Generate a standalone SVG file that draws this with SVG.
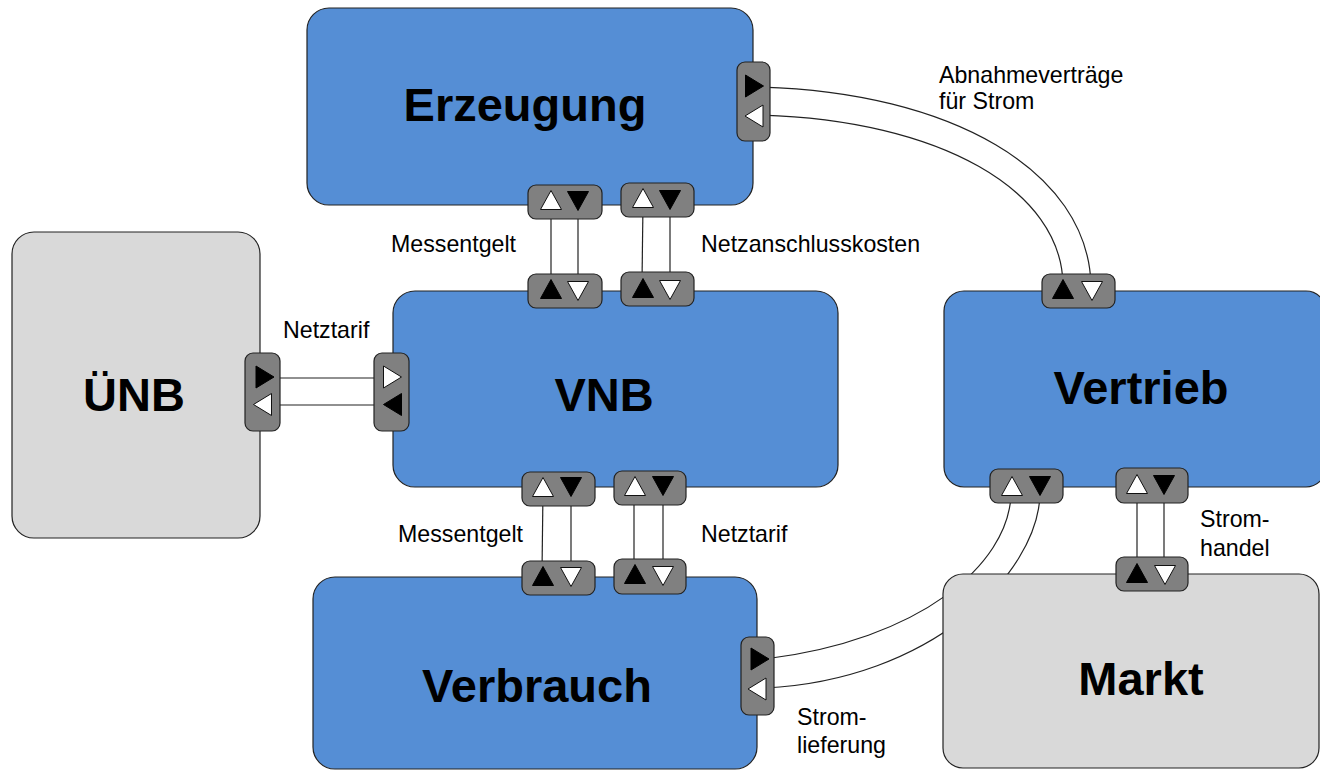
<svg xmlns="http://www.w3.org/2000/svg" width="1320" height="771" viewBox="0 0 1320 771">
<style>
.blue{fill:#558ed5;stroke:#222;stroke-width:1.2}
.grey{fill:#d9d9d9;stroke:#222;stroke-width:1.2}
.port{fill:#808080;stroke:#222;stroke-width:1.2}
.w{fill:#fff;stroke:#111;stroke-width:1}
.b{fill:#000;stroke:#000;stroke-width:1}
.conn{fill:none;stroke:#222;stroke-width:1.2}
.title{font-family:"Liberation Sans",Arial,sans-serif;font-weight:bold;font-size:47px;fill:#000;text-anchor:middle}
.lbl{font-family:"Liberation Sans",Arial,sans-serif;font-size:23.2px;fill:#000}
</style>
<defs>
<path id="up" d="M-10.5,9.5 L10.5,9.5 L0,-9.5Z"/>
<path id="dn" d="M-10.5,-9.5 L10.5,-9.5 L0,9.5Z"/>
<path id="rt" d="M-9,-11 L-9,11 L9,0Z"/>
<path id="lt" d="M9,-11 L9,11 L-9,0Z"/>
</defs>

<g id="connectors">
<path class="conn" d="M551,205 V285"/>
<path class="conn" d="M578,205 V285"/>
<path class="conn" d="M643,203 L642,283"/>
<path class="conn" d="M670,203 V285"/>
<path class="conn" d="M543,490 L542,572"/>
<path class="conn" d="M571,490 V572"/>
<path class="conn" d="M634,490 V572"/>
<path class="conn" d="M663,490 V572"/>
<path class="conn" d="M1137,490 V570"/>
<path class="conn" d="M1164,490 V570"/>
<path class="conn" d="M268,378 H392"/>
<path class="conn" d="M268,405 H392"/>
<path class="conn" d="M760,87 C950,92 1088,170 1091,285"/>
<path class="conn" d="M760,115 C940,120 1062,190 1063,285"/>
<path class="conn" d="M1011,495 C1008,565 920,640 765,659"/>
<path class="conn" d="M1040,495 C1037,575 930,680 765,688"/>
</g>

<g id="erzeugung">
<rect class="blue" x="307" y="8" width="446" height="197" rx="22"/>
<text class="title" x="525" y="121">Erzeugung</text>
<rect class="port" x="528" y="185" width="74" height="34" rx="8"/>
<use href="#up" class="w" x="551" y="200"/>
<use href="#dn" class="b" x="578" y="201"/>
<rect class="port" x="621" y="183" width="73" height="34" rx="8"/>
<use href="#up" class="w" x="643" y="198"/>
<use href="#dn" class="b" x="670" y="200"/>
<rect class="port" x="737" y="62" width="33" height="79" rx="8"/>
<use href="#rt" class="b" x="754.5" y="86"/>
<use href="#lt" class="w" x="754" y="116"/>
</g>

<g id="uenb">
<rect class="grey" x="12" y="232" width="248" height="306" rx="22"/>
<text class="title" x="134" y="411">ÜNB</text>
<rect class="port" x="245" y="353" width="35" height="78" rx="8"/>
<use href="#rt" class="b" x="265" y="377"/>
<use href="#lt" class="w" x="262.5" y="404.5"/>
</g>

<g id="vnb">
<rect class="blue" x="393" y="291" width="445" height="196" rx="22"/>
<text class="title" x="604" y="411">VNB</text>
<rect class="port" x="528" y="274" width="74" height="34" rx="8"/>
<use href="#up" class="b" x="551" y="289"/>
<use href="#dn" class="w" x="578" y="291"/>
<rect class="port" x="621" y="272" width="73" height="34" rx="8"/>
<use href="#up" class="b" x="643" y="288"/>
<use href="#dn" class="w" x="670" y="290"/>
<rect class="port" x="374" y="353" width="35" height="78" rx="8"/>
<use href="#rt" class="w" x="392.5" y="377"/>
<use href="#lt" class="b" x="392.5" y="404.5"/>
<rect class="port" x="522" y="472" width="73" height="34" rx="8"/>
<use href="#up" class="w" x="543" y="487"/>
<use href="#dn" class="b" x="571" y="487"/>
<rect class="port" x="614" y="471" width="72" height="34" rx="8"/>
<use href="#up" class="w" x="635" y="486"/>
<use href="#dn" class="b" x="663" y="486"/>
</g>

<g id="vertrieb">
<rect class="blue" x="944" y="291" width="382" height="196" rx="20"/>
<text class="title" x="1141" y="404">Vertrieb</text>
<rect class="port" x="1042" y="274" width="73" height="34" rx="8"/>
<use href="#up" class="b" x="1063" y="289"/>
<use href="#dn" class="w" x="1092" y="291"/>
<rect class="port" x="990" y="469" width="73" height="34" rx="8"/>
<use href="#up" class="w" x="1012" y="486"/>
<use href="#dn" class="b" x="1040" y="486"/>
<rect class="port" x="1116" y="468" width="72" height="35" rx="8"/>
<use href="#up" class="w" x="1137" y="484"/>
<use href="#dn" class="b" x="1164" y="485"/>
</g>

<g id="verbrauch">
<rect class="blue" x="313" y="577" width="444" height="192" rx="22"/>
<text class="title" x="537" y="702">Verbrauch</text>
<rect class="port" x="522" y="561" width="73" height="34" rx="8"/>
<use href="#up" class="b" x="543" y="576"/>
<use href="#dn" class="w" x="571" y="577"/>
<rect class="port" x="614" y="559" width="72" height="35" rx="8"/>
<use href="#up" class="b" x="635" y="574"/>
<use href="#dn" class="w" x="663" y="576"/>
<rect class="port" x="741" y="637" width="33" height="78" rx="8"/>
<use href="#rt" class="b" x="760" y="659"/>
<use href="#lt" class="w" x="757" y="689"/>
</g>

<g id="markt">
<rect class="grey" x="943" y="574" width="376" height="194" rx="20"/>
<text class="title" x="1141" y="695">Markt</text>
<rect class="port" x="1116" y="557" width="72" height="34" rx="8"/>
<use href="#up" class="b" x="1137" y="573"/>
<use href="#dn" class="w" x="1165" y="575"/>
</g>

<g id="labels">
<text class="lbl" x="939" y="83">Abnahmeverträge</text>
<text class="lbl" x="939" y="109">für Strom</text>
<text class="lbl" x="391" y="252">Messentgelt</text>
<text class="lbl" x="701" y="252">Netzanschlusskosten</text>
<text class="lbl" x="283" y="338">Netztarif</text>
<text class="lbl" x="398" y="542">Messentgelt</text>
<text class="lbl" x="701" y="542">Netztarif</text>
<text class="lbl" x="1200" y="527">Strom-</text>
<text class="lbl" x="1200" y="556">handel</text>
<text class="lbl" x="797" y="725">Strom-</text>
<text class="lbl" x="797" y="753">lieferung</text>
</g>
</svg>
